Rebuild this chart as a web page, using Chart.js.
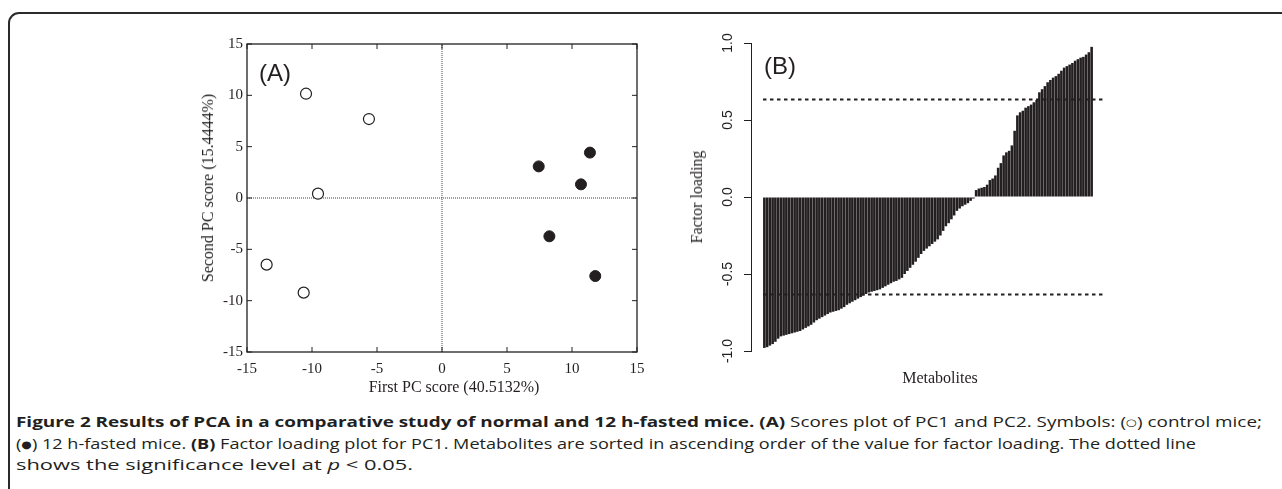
<!DOCTYPE html>
<html>
<head>
<meta charset="utf-8">
<script src="https://cdn.jsdelivr.net/npm/chart.js@4.4.0/dist/chart.umd.min.js"></script>
<style>
  html, body { margin: 0; padding: 0; background: #fff; }
  body { width: 1282px; height: 489px; position: relative; overflow: hidden; color: #231f20; }
  .frame { position: absolute; left: 8px; top: 12px; width: 1400px; height: 600px;
           border: 2px solid #2b2b2b; border-radius: 11px; }
  canvas { position: absolute; top: 0; }
  #chartA { left: 170px; }
  #chartB { left: 680px; }
  .t { position: absolute; white-space: nowrap; line-height: 1; transform: translate(-50%, -50%); }
  .rot { transform: translate(-50%, -50%) rotate(-90deg); }
  .panel { font-family: "Liberation Sans", Arial, sans-serif; font-size: 24px; }
  .axt { font-family: "Liberation Serif", serif; font-size: 16px; }
  .cap { position: absolute; left: 16px; white-space: nowrap; font-family: "Open Sans", sans-serif;
         font-size: 15px; line-height: 15px; transform-origin: 0 50%; color: #231f20; }
  .cap b { font-weight: 700; }
  .sym { font-family: "DejaVu Sans", sans-serif; font-size: 10px; vertical-align: 1px; }
</style>
</head>
<body>
<div class="frame"></div>

<canvas id="chartA" width="490" height="400"></canvas>
<canvas id="chartB" width="440" height="400"></canvas>

<div class="t panel" style="left:275px; top:73px;">(A)</div>
<div class="t axt rot" style="left:208px; top:188px;">Second PC score (15.4444%)</div>
<div class="t axt" style="left:454px; top:387px;">First PC score (40.5132%)</div>

<div class="t panel" style="left:780px; top:66px;">(B)</div>
<div class="t axt rot" style="left:697px; top:197px;">Factor loading</div>
<div class="t axt" style="left:940px; top:378px;">Metabolites</div>

<div class="cap" id="cap1" style="top:414px;"><b>Figure 2 Results of PCA in a comparative study of normal and 12 h-fasted mice. (A)</b> Scores plot of PC1 and PC2. Symbols: (<span class="sym">○</span>) control mice;</div>
<div class="cap" id="cap2" style="top:436px;">(<span class="sym">●</span>) 12 h-fasted mice. <b>(B)</b> Factor loading plot for PC1. Metabolites are sorted in ascending order of the value for factor loading. The dotted line</div>
<div class="cap" id="cap3" style="top:457px;">shows the significance level at <i>p</i> &lt; 0.05.</div>

<script>
// (A) PCA scores
const controlX = [-10.46, -5.62, -9.54, -13.49, -10.64];
const controlY = [10.16, 7.69, 0.42, -6.49, -9.22];
const fastedX = [7.44, 11.38, 10.69, 8.26, 11.79];
const fastedY = [3.08, 4.42, 1.33, -3.73, -7.6];
const scoreTicks = [-15, -10, -5, 0, 5, 10, 15];

// (B) factor loadings for PC1, sorted
const loadings = [
  -0.98, -0.975, -0.965, -0.955, -0.94, -0.92, -0.905, -0.90, -0.895, -0.89,
  -0.885, -0.88, -0.875, -0.87, -0.86, -0.85, -0.84, -0.83, -0.815, -0.80,
  -0.79, -0.78, -0.77, -0.76, -0.75, -0.745, -0.74, -0.735, -0.725, -0.715,
  -0.70, -0.69, -0.68, -0.67, -0.66, -0.65, -0.64, -0.63, -0.62, -0.615,
  -0.61, -0.605, -0.60, -0.59, -0.58, -0.57, -0.56, -0.55, -0.545, -0.535,
  -0.525, -0.50, -0.48, -0.46, -0.44, -0.42, -0.395, -0.37, -0.35, -0.335,
  -0.32, -0.305, -0.29, -0.275, -0.25, -0.22, -0.19, -0.17, -0.145, -0.12,
  -0.09, -0.075, -0.06, -0.05, -0.04, -0.025, -0.01, 0.045, 0.055, 0.06,
  0.065, 0.08, 0.11, 0.12, 0.14, 0.19, 0.22, 0.27, 0.29, 0.30,
  0.335, 0.43, 0.53, 0.55, 0.56, 0.58, 0.59, 0.60, 0.615, 0.63,
  0.68, 0.70, 0.72, 0.745, 0.76, 0.775, 0.785, 0.80, 0.82, 0.84,
  0.85, 0.86, 0.87, 0.885, 0.895, 0.905, 0.91, 0.925, 0.94, 0.975
];
const cutoffs = [0.633, -0.633];
const loadTicks = ['-1.0', '-0.5', '0.0', '0.5', '1.0'];

const ink = '#231f20';

// MATLAB style box with inward ticks on all four sides
const boxTicks = {
  id: 'boxTicks',
  afterDraw(chart) {
    const { ctx, chartArea: a, scales: { x, y } } = chart;
    ctx.save();
    ctx.strokeStyle = ink;
    ctx.lineWidth = 1.3;
    ctx.strokeRect(a.left, a.top, a.width, a.height);
    ctx.beginPath();
    x.ticks.forEach(t => {
      const px = x.getPixelForValue(t.value);
      ctx.moveTo(px, a.bottom); ctx.lineTo(px, a.bottom - 5);
      ctx.moveTo(px, a.top); ctx.lineTo(px, a.top + 5);
    });
    y.ticks.forEach(t => {
      const py = y.getPixelForValue(t.value);
      ctx.moveTo(a.left, py); ctx.lineTo(a.left + 5, py);
      ctx.moveTo(a.right, py); ctx.lineTo(a.right - 5, py);
    });
    ctx.lineWidth = 1;
    ctx.stroke();
    ctx.restore();
  }
};

new Chart(document.getElementById('chartA'), {
  type: 'scatter',
  data: {
    datasets: [
      {
        data: controlX.map((x, i) => ({ x: x, y: controlY[i] })),
        pointRadius: 5.5,
        pointBackgroundColor: '#fff',
        pointBorderColor: ink,
        pointBorderWidth: 1.2
      },
      {
        data: fastedX.map((x, i) => ({ x: x, y: fastedY[i] })),
        pointRadius: 5.5,
        pointBackgroundColor: ink,
        pointBorderColor: ink,
        pointBorderWidth: 1
      },
      {
        type: 'line',
        data: [{ x: -15, y: 0 }, { x: 15, y: 0 }],
        borderColor: '#444',
        borderWidth: 1,
        borderDash: [1, 1],
        pointRadius: 0
      },
      {
        type: 'line',
        data: [{ x: 0, y: -15 }, { x: 0, y: 15 }],
        borderColor: '#444',
        borderWidth: 1,
        borderDash: [1, 1],
        pointRadius: 0
      }
    ]
  },
  options: {
    responsive: false,
    animation: false,
    layout: { padding: { top: 44, right: 23, bottom: 0, left: 0 } },
    plugins: { legend: { display: false }, tooltip: { enabled: false } },
    scales: {
      x: {
        type: 'linear', min: -15, max: 15,
        afterBuildTicks: s => { s.ticks = scoreTicks.map(v => ({ value: v })); },
        grid: { display: false, drawTicks: false },
        border: { display: false },
        ticks: { color: ink, font: { family: 'Liberation Serif', size: 15 }, padding: 8, maxRotation: 0 },
        afterFit: s => { s.height = 48; }
      },
      y: {
        type: 'linear', min: -15, max: 15,
        afterBuildTicks: s => { s.ticks = scoreTicks.map(v => ({ value: v })); },
        grid: { display: false, drawTicks: false },
        border: { display: false },
        ticks: { color: ink, font: { family: 'Liberation Serif', size: 15 }, padding: 4 },
        afterFit: s => { s.width = 77; }
      }
    }
  },
  plugins: [boxTicks]
});

// R style tick labels, written parallel to the axis
const sideLabels = {
  id: 'sideLabels',
  afterDraw(chart) {
    const { ctx, scales: { y } } = chart;
    ctx.save();
    ctx.fillStyle = ink;
    ctx.font = '14px "Liberation Sans", Arial, sans-serif';
    ctx.textAlign = 'center';
    ctx.textBaseline = 'middle';
    y.ticks.forEach((t, i) => {
      ctx.save();
      ctx.translate(48, y.getPixelForValue(t.value));
      ctx.rotate(-Math.PI / 2);
      ctx.fillText(loadTicks[i], 0, 0);
      ctx.restore();
    });
    ctx.restore();
  }
};

new Chart(document.getElementById('chartB'), {
  type: 'bar',
  data: {
    datasets: [
      {
        data: loadings.map((v, i) => ({ x: i, y: v })),
        backgroundColor: ink,
        borderWidth: 0,
        barPercentage: 0.94,
        categoryPercentage: 1
      },
      ...cutoffs.map(c => ({
        type: 'line',
        data: [{ x: -0.5, y: c }, { x: 123.5, y: c }],
        borderColor: ink,
        borderWidth: 2,
        borderDash: [3.5, 3.5],
        pointRadius: 0
      }))
    ]
  },
  options: {
    responsive: false,
    animation: false,
    layout: { padding: { top: 43, right: 15, bottom: 49, left: 0 } },
    plugins: { legend: { display: false }, tooltip: { enabled: false } },
    scales: {
      x: { type: 'linear', min: -4.86, max: 123.86, offset: false, display: false },
      y: {
        type: 'linear', min: -1, max: 1,
        ticks: { stepSize: 0.5, display: false, callback: (v, i) => loadTicks[i] },
        grid: { drawOnChartArea: false, drawTicks: true, tickLength: 7, color: ink, lineWidth: 1 },
        border: { display: true, color: ink, width: 1 },
        afterFit: s => { s.width = 71; }
      }
    }
  },
  plugins: [sideLabels]
});

// squeeze caption lines to the measured widths of the printed lines
const capWidths = { cap1: 1246, cap2: 1180, cap3: 397 };
function fitCaption() {
  Object.keys(capWidths).forEach(id => {
    const el = document.getElementById(id);
    el.style.transform = 'none';
    const w = el.getBoundingClientRect().width;
    el.style.transform = 'scaleX(' + (capWidths[id] / w) + ')';
  });
}
fitCaption();
document.fonts.ready.then(fitCaption);
</script>
</body>
</html>
